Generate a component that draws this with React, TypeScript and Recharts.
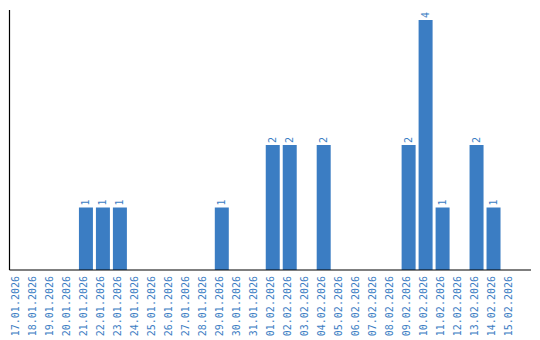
import React from "react";
import { BarChart, Bar, XAxis, YAxis, LabelList } from "recharts";

const dates = [
  "17.01.2026", "18.01.2026", "19.01.2026", "20.01.2026", "21.01.2026",
  "22.01.2026", "23.01.2026", "24.01.2026", "25.01.2026", "26.01.2026",
  "27.01.2026", "28.01.2026", "29.01.2026", "30.01.2026", "31.01.2026",
  "01.02.2026", "02.02.2026", "03.02.2026", "04.02.2026", "05.02.2026",
  "06.02.2026", "07.02.2026", "08.02.2026", "09.02.2026", "10.02.2026",
  "11.02.2026", "12.02.2026", "13.02.2026", "14.02.2026", "15.02.2026",
];
const counts = [
  0, 0, 0, 0, 1,
  1, 1, 0, 0, 0,
  0, 0, 1, 0, 0,
  2, 2, 0, 2, 0,
  0, 0, 0, 2, 4,
  1, 0, 2, 1, 0,
];

const data = dates.map((d, i) => ({ date: d, value: counts[i] }));

const BLUE = "#3b7dc3";
const FONT = "DejaVu Sans Mono, monospace";

const Tick = (props: any) => {
  const { x, y, payload } = props;
  return (
    <text
      x={0}
      y={0}
      transform={`translate(${x + 1.5},${y - 2}) rotate(-90)`}
      textAnchor="end"
      fontFamily={FONT}
      fontSize={10}
      fill={BLUE}
    >
      {payload.value}
    </text>
  );
};

const ValueLabel = (props: any) => {
  const { x, y, width, value } = props;
  if (!value) return null;
  const cx = x + width / 2;
  return (
    <text
      x={0}
      y={0}
      transform={`translate(${cx + 3},${y - 2}) rotate(-90)`}
      textAnchor="start"
      fontFamily={FONT}
      fontSize={10}
      fill={BLUE}
    >
      {value}
    </text>
  );
};

export default function App() {
  return (
    <div style={{ position: "absolute", left: 0, top: 0, background: "#fff" }}>
      <BarChart
        width={540}
        height={340}
        data={data}
        margin={{ top: 10, right: 9, left: 8, bottom: 0 }}
        barCategoryGap={1.5}
      >
        <XAxis
          dataKey="date"
          interval={0}
          height={70}
          tick={<Tick />}
          tickLine={false}
          axisLine={{ stroke: "#000", strokeWidth: 1.2 }}
          padding={{ left: 0, right: 12 }}
        />
        <YAxis
          width={1.5}
          domain={[0, 4.16]}
          tick={false}
          tickLine={false}
          axisLine={{ stroke: "#000", strokeWidth: 1.2 }}
        />
        <Bar dataKey="value" fill={BLUE} isAnimationActive={false}>
          <LabelList dataKey="value" content={<ValueLabel />} />
        </Bar>
      </BarChart>
    </div>
  );
}
